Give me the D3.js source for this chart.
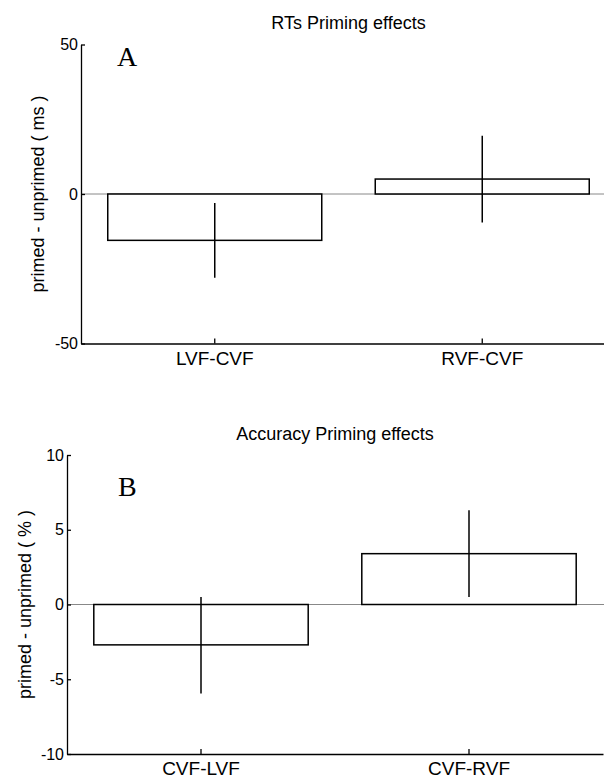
<!DOCTYPE html>
<meta charset="utf-8">
<style>
body { margin: 0; background: #fff; }
svg text { font-family: "Liberation Sans", Arial, sans-serif; fill: #000; }
.axis path, .axis line { stroke: #000; stroke-width: 1.3px; }
.axis text { font-size: 16px; }
.axis--x text { font-size: 19px; }
.bar { fill: #fff; stroke: #000; stroke-width: 1.5px; }
.err { stroke: #000; stroke-width: 1.5px; }
.zero { stroke: #888; stroke-width: 1px; }
.panel-letter { font-family: "Liberation Serif", "Times New Roman", serif; font-size: 28px; }
</style>
<svg width="604" height="781"></svg>
<script src="https://d3js.org/d3.v7.min.js"></script>
<script>
// Panel A: reaction times
var rtCategories = ["LVF-CVF", "RVF-CVF"];
var rtMeans = [-15.5, 5];
var rtErrLow = [-28, -9.5];
var rtErrHigh = [-3, 19.5];
var rtTicks = [-50, 0, 50];

// Panel B: accuracy
var accCategories = ["CVF-LVF", "CVF-RVF"];
var accMeans = [-2.7, 3.4];
var accErrLow = [-5.95, 0.5];
var accErrHigh = [0.5, 6.3];
var accTicks = [-10, -5, 0, 5, 10];

var svg = d3.select("svg");

function drawPanel(opt) {
  var g = svg.append("g");

  var x = d3.scaleBand()
      .domain(opt.categories)
      .range([opt.left, opt.right])
      .paddingInner(0.2)
      .paddingOuter(0.1);
  var y = d3.scaleLinear()
      .domain(opt.yDomain)
      .range([opt.bottom, opt.top]);

  var data = opt.categories.map(function(c, i) {
    return {cat: c, v: opt.means[i], lo: opt.errLow[i], hi: opt.errHigh[i]};
  });

  // zero baseline
  g.append("line")
      .attr("class", "zero")
      .attr("x1", opt.left).attr("x2", 604)
      .attr("y1", y(0)).attr("y2", y(0));

  g.selectAll(".bar")
    .data(data)
    .enter().append("rect")
      .attr("class", "bar")
      .attr("x", function(d) { return x(d.cat); })
      .attr("width", x.bandwidth())
      .attr("y", function(d) { return y(Math.max(0, d.v)); })
      .attr("height", function(d) { return Math.abs(y(d.v) - y(0)); });

  g.selectAll(".err")
    .data(data)
    .enter().append("line")
      .attr("class", "err")
      .attr("x1", function(d) { return x(d.cat) + x.bandwidth() / 2; })
      .attr("x2", function(d) { return x(d.cat) + x.bandwidth() / 2; })
      .attr("y1", function(d) { return y(d.hi); })
      .attr("y2", function(d) { return y(d.lo); });

  g.append("g")
      .attr("class", "axis axis--y")
      .attr("transform", "translate(" + opt.left + ",0)")
      .call(d3.axisLeft(y).tickValues(opt.ticks).tickFormat(function(d) { return String(d); })
        .tickSizeInner(-4).tickSizeOuter(0).tickPadding(3));

  g.append("g")
      .attr("class", "axis axis--x")
      .attr("transform", "translate(0," + opt.bottom + ")")
      .call(d3.axisBottom(x).tickSizeInner(-5).tickSizeOuter(0).tickPadding(8));

  g.append("text")
      .attr("x", (opt.left + opt.right) / 2)
      .attr("y", opt.titleY)
      .attr("text-anchor", "middle")
      .style("font-size", "18px")
      .text(opt.title);

  g.append("text")
      .attr("transform", "translate(" + opt.ylabelX + "," + (opt.top + opt.bottom) / 2 + ") rotate(-90)")
      .attr("text-anchor", "middle")
      .style("font-size", "18px")
      .text(opt.ylabel);

  g.append("text")
      .attr("class", "panel-letter")
      .attr("x", opt.letterX)
      .attr("y", opt.letterY)
      .text(opt.letter);
}

drawPanel({
  categories: rtCategories, means: rtMeans, errLow: rtErrLow, errHigh: rtErrHigh,
  ticks: rtTicks, yDomain: [-50, 50],
  left: 81, right: 616, top: 44.5, bottom: 343.5,
  title: "RTs Priming effects", titleY: 29,
  ylabel: "primed - unprimed ( ms )", ylabelX: 44,
  letter: "A", letterX: 117, letterY: 66
});

drawPanel({
  categories: accCategories, means: accMeans, errLow: accErrLow, errHigh: accErrHigh,
  ticks: accTicks, yDomain: [-10, 10],
  left: 67, right: 603, top: 455, bottom: 754,
  title: "Accuracy Priming effects", titleY: 440,
  ylabel: "primed - unprimed ( % )", ylabelX: 31,
  letter: "B", letterX: 118, letterY: 496
});
</script>
